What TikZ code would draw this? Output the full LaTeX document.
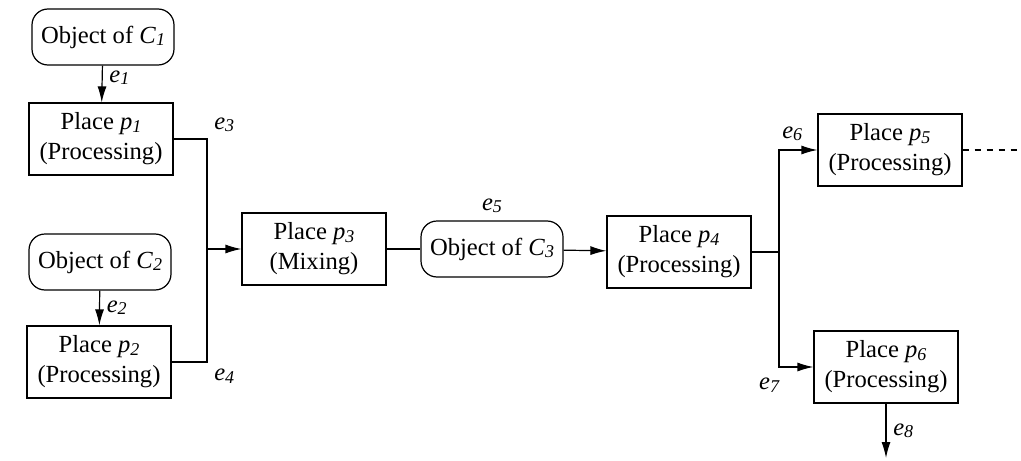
\documentclass[tikz,border=0pt]{standalone}
\usepackage{fontspec}
\setmainfont{Liberation Serif}
\usetikzlibrary{arrows.meta,positioning}

\newcommand{\ix}[2]{\textit{#1}\raisebox{-0.2ex}{\small\textit{#2}}}

\tikzset{every node/.style={font=\fontsize{12.3}{15}\selectfont}}
\tikzstyle{place}=[draw,rectangle,minimum width=72pt,minimum height=36pt,align=center,inner sep=2pt]
\tikzstyle{object}=[draw,rectangle,rounded corners=8pt,minimum width=71pt,minimum height=28pt,inner sep=2pt]
\tikzstyle{flow}=[-{Latex[length=8pt,width=4.5pt]}]

\begin{document}
\begin{tikzpicture}[x=0.5pt,y=-0.5pt,line width=0.6pt]
            \useasboundingbox (0,0) rectangle (1021,460);

            \node [object] (c1) at (103,37) {Object of \ix{C}{1}};
            \node [place] (p1) at (101,139) {Place \ix{p}{1}\\(Processing)};
            \node [object] (c2) at (100,262) {Object of \ix{C}{2}};
            \node [place] (p2) at (99,362) {Place \ix{p}{2}\\(Processing)};
            \node [place] (p3) at (314,249) {Place \ix{p}{3}\\(Mixing)};
            \node [object] (c3) at (492,249) {Object of \ix{C}{3}};
            \node [place] (p4) at (679,252) {Place \ix{p}{4}\\(Processing)};
            \node [place] (p5) at (890,150) {Place \ix{p}{5}\\(Processing)};
            \node [place] (p6) at (886,367) {Place \ix{p}{6}\\(Processing)};

            \coordinate (j12) at (207,249);
            \coordinate (j4) at (779,252);
            \coordinate (out) at (1021,150);
            \coordinate (sink) at (886,458);

            \draw [flow] (c1) -- node [right,yshift=3pt] {\ix{e}{1}} (p1);
            \draw [flow] (c2) -- node [right] {\ix{e}{2}} (p2);
            \draw (p1.east) -| node [pos=0.5,above right] {\ix{e}{3}} (j12);
            \draw (p2.east) -| node [pos=0.5,below right] {\ix{e}{4}} (j12);
            \draw [flow] (j12) -- (p3);
            \draw (p3) -- (c3);
            \node [above=0pt] at (c3.north) {\ix{e}{5}};
            \draw [flow] (c3) -- (p4);
            \draw (p4) -- (j4);
            \draw [flow] (j4) |- node [pos=0.5,above right=1pt and -2pt] {\ix{e}{6}} (p5);
            \draw [flow] (j4) |- node [pos=0.5,below left=2pt and -4pt] {\ix{e}{7}} (p6);
            \draw [dash pattern=on 3pt off 3pt] (p5) -- (out);
            \draw [flow] (p6) -- node [right] {\ix{e}{8}} (sink);
        \end{tikzpicture}
\end{document}
